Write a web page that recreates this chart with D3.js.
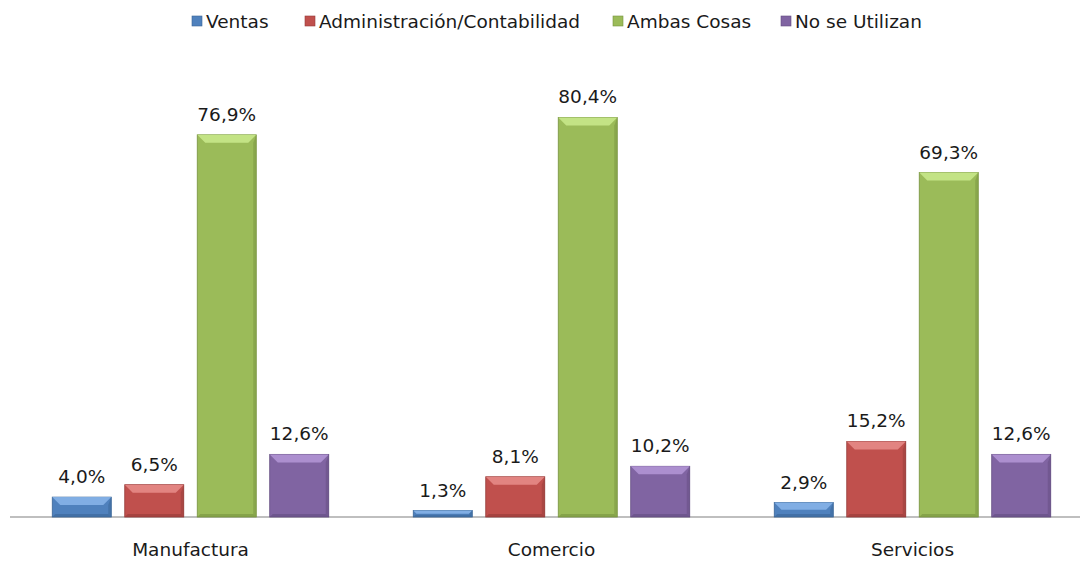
<!DOCTYPE html>
<meta charset="utf-8">
<head>
  <style>
  body { margin: 0; background: #fff; }
  text { font-family: "DejaVu Sans", Verdana, sans-serif; fill: #1a1a1a; }
  </style>
</head>
<body>
<svg width="1080" height="561"></svg>
<script src="https://cdn.jsdelivr.net/npm/d3@7"></script>
<script>

var categories = ["Manufactura", "Comercio", "Servicios"];
var series = ["Ventas", "Administración/Contabilidad", "Ambas Cosas", "No se Utilizan"];
var ventas = [4.0, 1.3, 2.9];
var admin = [6.5, 8.1, 15.2];
var ambas = [76.9, 80.4, 69.3];
var noUtil = [12.6, 10.2, 12.6];
var colors = ["#4f81bd", "#c0504d", "#9bbb59", "#8064a2"];
var lights = ["#86b2e8", "#e58a87", "#c8e88a", "#b093d4"];
var darks = ["#3a6596", "#943b39", "#77933f", "#634c80"];

var values = [ventas, admin, ambas, noUtil];

var svg = d3.select("svg"),
    width = +svg.attr("width"),
    height = +svg.attr("height");

var x0 = d3.scaleBand().domain(categories).range([10, 1093]);
var x1 = d3.scaleBand().domain(series).range([0, x0.bandwidth()])
    .paddingInner(0.186).paddingOuter(0.583);
var y = d3.scaleLinear().domain([0, 100]).range([517, 20]);

var fmt = function(v) { return v.toFixed(1).replace(".", ",") + "%"; };

// baseline
svg.append("line")
    .attr("x1", 10).attr("x2", width)
    .attr("y1", y(0)).attr("y2", y(0))
    .attr("stroke", "#bfbfbf").attr("stroke-width", 2);

var data = [];
categories.forEach(function(c, i) {
  series.forEach(function(s, j) {
    data.push({cat: c, ser: s, j: j, v: values[j][i]});
  });
});

var bar = svg.selectAll(".bar").data(data).enter().append("g")
    .attr("class", "bar")
    .attr("transform", function(d) { return "translate(" + (x0(d.cat) + x1(d.ser)) + ",0)"; });

var bw = x1.bandwidth();

bar.each(function(d) {
  var g = d3.select(this);
  var top = y(d.v), bot = y(0), h = bot - top;
  var b = Math.min(8, h / 2), bb = Math.min(3, h / 3);
  g.append("rect").attr("x", 0).attr("y", top).attr("width", bw).attr("height", h)
      .attr("fill", colors[d.j]).attr("stroke", darks[d.j]).attr("stroke-width", 0.8);
  // top bevel
  g.append("polygon")
      .attr("points", [[0, top], [bw, top], [bw - b, top + b], [b, top + b]].join(" "))
      .attr("fill", lights[d.j]).attr("opacity", 0.9);
  // right side
  g.append("polygon")
      .attr("points", [[bw, top], [bw - 3, top + b], [bw - 3, bot - bb], [bw, bot]].join(" "))
      .attr("fill", darks[d.j]).attr("opacity", 0.5);
  // bottom bevel
  g.append("polygon")
      .attr("points", [[0, bot], [bb, bot - bb], [bw - bb, bot - bb], [bw, bot]].join(" "))
      .attr("fill", darks[d.j]).attr("opacity", 0.6);
});

bar.append("text")
    .attr("x", bw / 2)
    .attr("y", function(d) { return y(d.v) - 14; })
    .attr("text-anchor", "middle")
    .style("font-size", "18.5px")
    .text(function(d) { return fmt(d.v); });

// category labels
svg.selectAll(".cat").data(categories).enter().append("text")
    .attr("x", function(d) { return x0(d) + x0.bandwidth() / 2; })
    .attr("y", 556)
    .attr("text-anchor", "middle")
    .style("font-size", "18.5px")
    .text(function(d) { return d; });

// legend
var legX = [192, 305, 613, 781];
var leg = svg.selectAll(".leg").data(series).enter().append("g")
    .attr("transform", function(d, i) { return "translate(" + legX[i] + ",16)"; });
leg.append("rect").attr("width", 10).attr("height", 10)
    .attr("fill", function(d, i) { return colors[i]; })
    .attr("stroke", function(d, i) { return darks[i]; }).attr("stroke-width", 0.6);
leg.append("text").attr("x", 14).attr("y", 12)
    .style("font-size", "18.5px")
    .text(function(d) { return d; });

</script>
</body>
